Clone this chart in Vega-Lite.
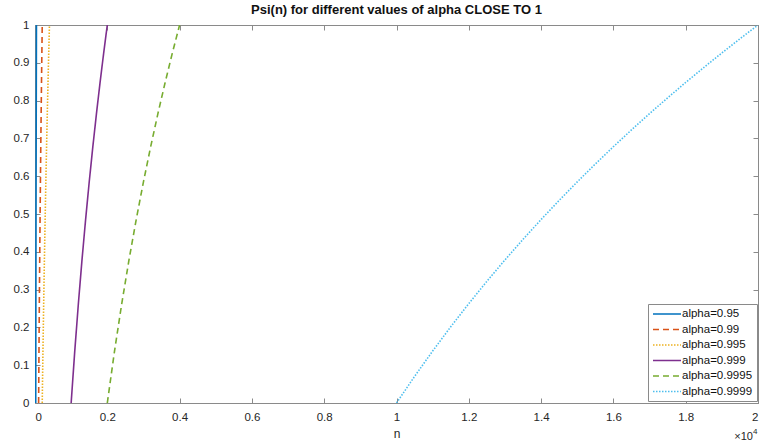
{
  "$schema": "https://vega.github.io/schema/vega-lite/v6.json",
  "width": 723,
  "height": 378,
  "autosize": {"type": "none"},
  "padding": {"left": 35, "top": 25, "right": 9, "bottom": 39},
  "background": "white",
  "config": {
    "font": "Liberation Sans",
    "view": {"stroke": "#8a8a8a", "strokeWidth": 1},
    "axis": {
      "domainColor": "#8a8a8a",
      "tickColor": "#8a8a8a",
      "labelColor": "#262626",
      "titleColor": "#262626",
      "labelFont": "Liberation Sans",
      "titleFont": "Liberation Sans",
      "labelFontSize": 11.5,
      "titleFontSize": 12,
      "titleFontWeight": "normal",
      "grid": false,
      "tickSize": -5
    }
  },
  "title": {
    "text": "Psi(n) for different values of alpha CLOSE TO 1",
    "fontSize": 13,
    "fontWeight": "bold",
    "font": "Liberation Sans",
    "color": "#111111",
    "offset": 2,
    "anchor": "middle"
  },
  "data": {
    "values": [
      {"series": "alpha=0.95", "n": 20, "psi": 0},
      {"series": "alpha=0.95", "n": 22, "psi": 0.1375},
      {"series": "alpha=0.95", "n": 24, "psi": 0.263},
      {"series": "alpha=0.95", "n": 26, "psi": 0.3785},
      {"series": "alpha=0.95", "n": 28, "psi": 0.4854},
      {"series": "alpha=0.95", "n": 30, "psi": 0.585},
      {"series": "alpha=0.95", "n": 32, "psi": 0.6781},
      {"series": "alpha=0.95", "n": 34, "psi": 0.7655},
      {"series": "alpha=0.95", "n": 36, "psi": 0.848},
      {"series": "alpha=0.95", "n": 38, "psi": 0.926},
      {"series": "alpha=0.95", "n": 40, "psi": 1},
      {"series": "alpha=0.99", "n": 100, "psi": 0},
      {"series": "alpha=0.99", "n": 110, "psi": 0.1375},
      {"series": "alpha=0.99", "n": 120, "psi": 0.263},
      {"series": "alpha=0.99", "n": 130, "psi": 0.3785},
      {"series": "alpha=0.99", "n": 140, "psi": 0.4854},
      {"series": "alpha=0.99", "n": 150, "psi": 0.585},
      {"series": "alpha=0.99", "n": 160, "psi": 0.6781},
      {"series": "alpha=0.99", "n": 170, "psi": 0.7655},
      {"series": "alpha=0.99", "n": 180, "psi": 0.848},
      {"series": "alpha=0.99", "n": 190, "psi": 0.926},
      {"series": "alpha=0.99", "n": 200, "psi": 1},
      {"series": "alpha=0.995", "n": 200, "psi": 0},
      {"series": "alpha=0.995", "n": 220, "psi": 0.1375},
      {"series": "alpha=0.995", "n": 240, "psi": 0.263},
      {"series": "alpha=0.995", "n": 260, "psi": 0.3785},
      {"series": "alpha=0.995", "n": 280, "psi": 0.4854},
      {"series": "alpha=0.995", "n": 300, "psi": 0.585},
      {"series": "alpha=0.995", "n": 320, "psi": 0.6781},
      {"series": "alpha=0.995", "n": 340, "psi": 0.7655},
      {"series": "alpha=0.995", "n": 360, "psi": 0.848},
      {"series": "alpha=0.995", "n": 380, "psi": 0.926},
      {"series": "alpha=0.995", "n": 400, "psi": 1},
      {"series": "alpha=0.999", "n": 1000, "psi": 0},
      {"series": "alpha=0.999", "n": 1100, "psi": 0.1375},
      {"series": "alpha=0.999", "n": 1200, "psi": 0.263},
      {"series": "alpha=0.999", "n": 1300, "psi": 0.3785},
      {"series": "alpha=0.999", "n": 1400, "psi": 0.4854},
      {"series": "alpha=0.999", "n": 1500, "psi": 0.585},
      {"series": "alpha=0.999", "n": 1600, "psi": 0.6781},
      {"series": "alpha=0.999", "n": 1700, "psi": 0.7655},
      {"series": "alpha=0.999", "n": 1800, "psi": 0.848},
      {"series": "alpha=0.999", "n": 1900, "psi": 0.926},
      {"series": "alpha=0.999", "n": 2000, "psi": 1},
      {"series": "alpha=0.9995", "n": 2000, "psi": 0},
      {"series": "alpha=0.9995", "n": 2200, "psi": 0.1375},
      {"series": "alpha=0.9995", "n": 2400, "psi": 0.263},
      {"series": "alpha=0.9995", "n": 2600, "psi": 0.3785},
      {"series": "alpha=0.9995", "n": 2800, "psi": 0.4854},
      {"series": "alpha=0.9995", "n": 3000, "psi": 0.585},
      {"series": "alpha=0.9995", "n": 3200, "psi": 0.6781},
      {"series": "alpha=0.9995", "n": 3400, "psi": 0.7655},
      {"series": "alpha=0.9995", "n": 3600, "psi": 0.848},
      {"series": "alpha=0.9995", "n": 3800, "psi": 0.926},
      {"series": "alpha=0.9995", "n": 4000, "psi": 1},
      {"series": "alpha=0.9999", "n": 10000, "psi": 0},
      {"series": "alpha=0.9999", "n": 10500, "psi": 0.07039},
      {"series": "alpha=0.9999", "n": 11000, "psi": 0.1375},
      {"series": "alpha=0.9999", "n": 11500, "psi": 0.20163},
      {"series": "alpha=0.9999", "n": 12000, "psi": 0.26303},
      {"series": "alpha=0.9999", "n": 12500, "psi": 0.32193},
      {"series": "alpha=0.9999", "n": 13000, "psi": 0.37851},
      {"series": "alpha=0.9999", "n": 13500, "psi": 0.43296},
      {"series": "alpha=0.9999", "n": 14000, "psi": 0.48543},
      {"series": "alpha=0.9999", "n": 14500, "psi": 0.53605},
      {"series": "alpha=0.9999", "n": 15000, "psi": 0.58496},
      {"series": "alpha=0.9999", "n": 15500, "psi": 0.63227},
      {"series": "alpha=0.9999", "n": 16000, "psi": 0.67807},
      {"series": "alpha=0.9999", "n": 16500, "psi": 0.72247},
      {"series": "alpha=0.9999", "n": 17000, "psi": 0.76553},
      {"series": "alpha=0.9999", "n": 17500, "psi": 0.80735},
      {"series": "alpha=0.9999", "n": 18000, "psi": 0.848},
      {"series": "alpha=0.9999", "n": 18500, "psi": 0.88753},
      {"series": "alpha=0.9999", "n": 19000, "psi": 0.926},
      {"series": "alpha=0.9999", "n": 19500, "psi": 0.96347},
      {"series": "alpha=0.9999", "n": 20000, "psi": 1}
    ]
  },
  "resolve": {"axis": {"x": "independent", "y": "independent"}},
  "layer": [
    {
      "mark": {"type": "line", "strokeWidth": 1.6, "clip": true},
      "encoding": {
        "x": {
          "field": "n", "type": "quantitative",
          "scale": {"domain": [0, 20000], "nice": false, "zero": false},
          "axis": {
            "orient": "bottom",
            "values": [0, 2000, 4000, 6000, 8000, 10000, 12000, 14000, 16000, 18000, 20000],
            "labelExpr": "format(datum.value/10000, '~g')",
            "labelPadding": 13,
            "title": "n",
            "titlePadding": 6
          }
        },
        "y": {
          "field": "psi", "type": "quantitative",
          "scale": {"domain": [0, 1], "nice": false},
          "axis": {
            "orient": "left",
            "values": [0, 0.1, 0.2, 0.3, 0.4, 0.5, 0.6, 0.7, 0.8, 0.9, 1],
            "format": "~g",
            "labelPadding": 11,
            "title": null
          }
        },
        "color": {
          "field": "series", "type": "nominal",
          "scale": {
            "domain": ["alpha=0.95", "alpha=0.99", "alpha=0.995", "alpha=0.999", "alpha=0.9995", "alpha=0.9999"],
            "range": ["#0072BD", "#D95319", "#EDB120", "#7E2F8E", "#77AC30", "#4DBEEE"]
          },
          "legend": {
            "title": null,
            "orient": "none",
            "legendX": 613,
            "legendY": 279,
            "symbolType": "M-2.8,0H2.8",
            "symbolSize": 100,
            "symbolOffset": 9,
            "symbolStrokeWidth": 1.6,
            "symbolFillColor": "transparent",
            "labelFontSize": 11.5,
            "labelColor": "#111111",
            "labelFont": "Liberation Sans",
            "rowPadding": 3.5,
            "labelOffset": 9,
            "fillColor": "white",
            "strokeColor": "#8a8a8a",
            "padding": 4
          }
        },
        "strokeDash": {
          "field": "series", "type": "nominal",
          "scale": {
            "domain": ["alpha=0.95", "alpha=0.99", "alpha=0.995", "alpha=0.999", "alpha=0.9995", "alpha=0.9999"],
            "range": [[1, 0], [6, 4], [1.5, 1.5], [1, 0], [6, 4], [1.5, 1.5]]
          },
          "legend": {
            "title": null,
            "orient": "none",
            "legendX": 613,
            "legendY": 279,
            "symbolType": "M-2.8,0H2.8",
            "symbolSize": 100,
            "symbolOffset": 9,
            "symbolStrokeWidth": 1.6,
            "symbolFillColor": "transparent",
            "labelFontSize": 11.5,
            "labelColor": "#111111",
            "labelFont": "Liberation Sans",
            "rowPadding": 3.5,
            "labelOffset": 9,
            "fillColor": "white",
            "strokeColor": "#8a8a8a",
            "padding": 4
          }
        }
      }
    },
    {
      "mark": {"type": "line", "opacity": 0},
      "encoding": {
        "x": {
          "field": "n", "type": "quantitative",
          "axis": {
            "orient": "top",
            "values": [0, 2000, 4000, 6000, 8000, 10000, 12000, 14000, 16000, 18000, 20000],
            "labels": false,
            "title": null
          }
        },
        "y": {
          "field": "psi", "type": "quantitative",
          "axis": {
            "orient": "right",
            "values": [0, 0.1, 0.2, 0.3, 0.4, 0.5, 0.6, 0.7, 0.8, 0.9, 1],
            "labels": false,
            "title": null
          }
        },
        "detail": {"field": "series"}
      }
    },
    {
      "data": {"values": [{"label": "×10", "exp": "4"}]},
      "mark": {"type": "text", "align": "right", "baseline": "middle", "dy": 34, "dx": -5, "fontSize": 11, "color": "#262626", "font": "Liberation Sans"},
      "encoding": {
        "x": {"datum": 20000, "type": "quantitative", "axis": null},
        "y": {"datum": 0, "type": "quantitative", "axis": null},
        "text": {"field": "label"}
      }
    },
    {
      "data": {"values": [{"label": "×10", "exp": "4"}]},
      "mark": {"type": "text", "align": "left", "baseline": "middle", "dy": 29, "dx": -5, "fontSize": 8, "color": "#262626", "font": "Liberation Sans"},
      "encoding": {
        "x": {"datum": 20000, "type": "quantitative", "axis": null},
        "y": {"datum": 0, "type": "quantitative", "axis": null},
        "text": {"field": "exp"}
      }
    }
  ]
}
